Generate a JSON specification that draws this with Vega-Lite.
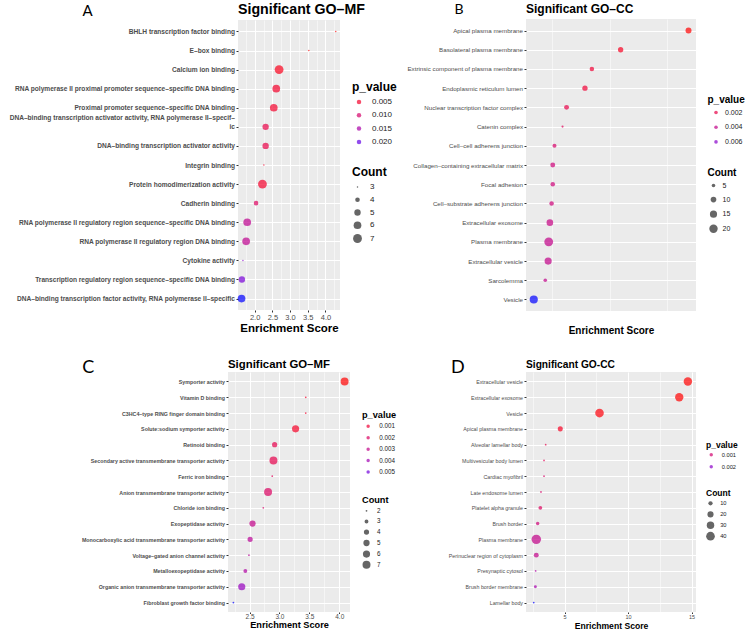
{
  "$schema": "https://vega.github.io/schema/vega-lite/v6.json",
  "background": "white",
  "autosize": {"type": "none"},
  "padding": {"left": 228, "top": 19, "right": 517, "bottom": 611},
  "columns": 2,
  "bounds": "flush",
  "center": true,
  "spacing": {"row": 61, "column": 176},
  "resolve": {
    "scale": {"x": "independent", "y": "independent", "color": "independent", "size": "independent"},
    "legend": {"color": "independent", "size": "independent"}
  },
  "config": {
    "font": "Liberation Sans",
    "view": {"fill": "#EBEBEB", "stroke": null},
    "axis": {"domain": false, "gridColor": "#FFFFFF", "tickColor": "#333333", "labelColor": "#4D4D4D", "titleColor": "#000000", "labelFont": "Liberation Sans", "titleFont": "Liberation Sans"},
    "axisY": {"titleAngle": 0, "titleAlign": "left", "titleBaseline": "alphabetic", "titleFont": "Lato", "titleFontWeight": "normal", "labelLimit": 400, "labelPadding": 1.5, "tickSize": 2, "grid": true, "gridWidth": 1},
    "axisX": {"titleFontWeight": "bold", "labelPadding": 1, "tickSize": 2, "labelFlush": false, "labelOverlap": false, "grid": true, "titlePadding": 2},
    "legend": {"padding": 0, "labelFont": "Liberation Sans", "titleFont": "Liberation Sans", "labelColor": "#1A1A1A", "titleColor": "#000000", "titleFontWeight": "bold", "orient": "none", "direction": "vertical", "symbolType": "circle", "gridAlign": "all"},
    "title": {"color": "#000000", "fontWeight": "bold", "anchor": "start", "frame": "group", "font": "Liberation Sans", "baseline": "alphabetic"}
  },
  "concat": [
    {
      "width": 102,
      "height": 290,
      "title": {"text": "Significant GO–MF", "fontSize": 14.2, "offset": -14},
      "data": {"values": [
        {"term": "BHLH transcription factor binding", "score": 4.29, "p_value": 0.003, "Count": 3},
        {"term": "E–box binding", "score": 3.53, "p_value": 0.003, "Count": 3},
        {"term": "Calcium ion binding", "score": 2.69, "p_value": 0.004, "Count": 7},
        {"term": "RNA polymerase II proximal promoter sequence–specific DNA binding", "score": 2.61, "p_value": 0.005, "Count": 6},
        {"term": "Proximal promoter sequence–specific DNA binding", "score": 2.54, "p_value": 0.005, "Count": 6},
        {"term": "DNA–binding transcription activator activity, RNA polymerase II–specific", "score": 2.31, "p_value": 0.007, "Count": 5},
        {"term": "DNA–binding transcription activator activity", "score": 2.31, "p_value": 0.007, "Count": 5},
        {"term": "Integrin binding", "score": 2.26, "p_value": 0.005, "Count": 3},
        {"term": "Protein homodimerization activity", "score": 2.22, "p_value": 0.005, "Count": 7},
        {"term": "Cadherin binding", "score": 2.04, "p_value": 0.009, "Count": 4},
        {"term": "RNA polymerase II regulatory region sequence–specific DNA binding", "score": 1.79, "p_value": 0.013, "Count": 6},
        {"term": "RNA polymerase II regulatory region DNA binding", "score": 1.76, "p_value": 0.013, "Count": 6},
        {"term": "Cytokine activity", "score": 1.67, "p_value": 0.018, "Count": 3},
        {"term": "Transcription regulatory region sequence–specific DNA binding", "score": 1.64, "p_value": 0.019, "Count": 5},
        {"term": "DNA–binding transcription factor activity, RNA polymerase II–specific", "score": 1.63, "p_value": 0.022, "Count": 6}
      ]},
      "mark": {"type": "circle", "opacity": 0.7},
      "encoding": {
        "y": {"field": "term", "type": "nominal", "sort": null, "scale": {"type": "point", "padding": 0.6},
          "axis": {"title": "A", "titleX": -156, "titleY": -5, "titleFontSize": 15, "labelFontSize": 6.6, "labelFontWeight": "bold", "labelLineHeight": 9.3,
            "labelOffset": {"condition": {"test": "datum.value == 'DNA–binding transcription activator activity, RNA polymerase II–specific'", "value": -9.3}, "value": 0},
            "labelExpr": "datum.value == 'DNA–binding transcription activator activity, RNA polymerase II–specific' ? ['DNA–binding transcription activator activity, RNA polymerase II–specif–', 'ic'] : datum.label"}},
        "x": {"field": "score", "type": "quantitative", "scale": {"domain": [1.53, 4.41], "nice": false, "zero": false},
          "axis": {"title": "Enrichment Score", "titleFontSize": 11.5, "labelFontSize": 7.5, "format": ".1f",
            "values": [1.75, 2, 2.25, 2.5, 2.75, 3, 3.25, 3.5, 3.75, 4, 4.25],
            "labelExpr": "datum.value % 0.5 == 0 ? datum.label : ''",
            "tickOpacity": {"condition": {"test": "datum.value % 0.5 == 0", "value": 1}, "value": 0},
            "gridWidth": {"condition": {"test": "datum.value % 0.5 == 0", "value": 1}, "value": 0.5}}},
        "color": {"field": "p_value", "type": "quantitative", "scale": {"range": ["#FF0000", "#0000FF"], "interpolate": "lab", "zero": false, "nice": false},
          "legend": {"type": "symbol", "values": [0.005, 0.01, 0.015, 0.02], "format": ".3f", "legendX": 114, "legendY": 62, "title": "p_value", "titleFontSize": 12, "labelFontSize": 8, "symbolSize": 20, "symbolOpacity": 0.7, "rowPadding": 5.3, "titlePadding": 4, "symbolOffset": 3, "labelOffset": 9}},
        "size": {"field": "Count", "type": "quantitative", "scale": {"domain": [3, 7], "range": [2.3, 78.5], "zero": false},
          "legend": {"values": [3, 4, 5, 6, 7], "legendX": 114, "legendY": 147, "title": "Count", "titleFontSize": 12, "labelFontSize": 8, "symbolFillColor": "#333333", "symbolOpacity": 0.75, "symbolStrokeWidth": 0, "rowPadding": 3.75, "titlePadding": 4, "symbolOffset": 1, "labelOffset": 8}}
      }
    },
    {
      "width": 170,
      "height": 292,
      "title": {"text": "Significant GO–CC", "fontSize": 12, "offset": -14},
      "data": {"values": [
        {"term": "Apical plasma membrane", "score": 4.87, "p_value": 0.0005, "Count": 11},
        {"term": "Basolateral plasma membrane", "score": 3.69, "p_value": 0.001, "Count": 9},
        {"term": "Extrinsic component of plasma membrane", "score": 3.19, "p_value": 0.0015, "Count": 7},
        {"term": "Endoplasmic reticulum lumen", "score": 3.07, "p_value": 0.0015, "Count": 9},
        {"term": "Nuclear transcription factor complex", "score": 2.75, "p_value": 0.002, "Count": 8},
        {"term": "Catenin complex", "score": 2.68, "p_value": 0.0025, "Count": 3},
        {"term": "Cell–cell adherens junction", "score": 2.54, "p_value": 0.003, "Count": 6},
        {"term": "Collagen–containing extracellular matrix", "score": 2.51, "p_value": 0.0035, "Count": 8},
        {"term": "Focal adhesion", "score": 2.51, "p_value": 0.0035, "Count": 7},
        {"term": "Cell–substrate adherens junction", "score": 2.49, "p_value": 0.0035, "Count": 7},
        {"term": "Extracellular exosome", "score": 2.46, "p_value": 0.0038, "Count": 13},
        {"term": "Plasma membrane", "score": 2.44, "p_value": 0.004, "Count": 22},
        {"term": "Extracellular vesicle", "score": 2.43, "p_value": 0.004, "Count": 15},
        {"term": "Sarcolemma", "score": 2.38, "p_value": 0.004, "Count": 5},
        {"term": "Vesicle", "score": 2.18, "p_value": 0.0075, "Count": 19}
      ]},
      "mark": {"type": "circle", "opacity": 0.7},
      "encoding": {
        "y": {"field": "term", "type": "nominal", "sort": null, "scale": {"type": "point", "padding": 0.6},
          "axis": {"title": "B", "titleX": -72, "titleY": -5.7, "titleFontSize": 14, "labelFontSize": 6.2}},
        "x": {"field": "score", "type": "quantitative", "scale": {"domain": [2.045, 5.0], "nice": false, "zero": false},
          "axis": {"title": "Enrichment Score", "titleFontSize": 10, "labelFontSize": 6, "format": "d", "labelPadding": 2.5, "titlePadding": 4,
            "values": [2.5, 3, 3.5, 4, 4.5],
            "labelExpr": "datum.value % 1 == 0 ? datum.label : ''",
            "tickOpacity": {"condition": {"test": "datum.value % 1 == 0", "value": 1}, "value": 0},
            "gridWidth": {"condition": {"test": "datum.value % 1 == 0", "value": 1}, "value": 0.5}}},
        "color": {"field": "p_value", "type": "quantitative", "scale": {"range": ["#FF0000", "#0000FF"], "interpolate": "lab", "zero": false, "nice": false},
          "legend": {"type": "symbol", "values": [0.002, 0.004, 0.006], "format": ".3f", "legendX": 181.5, "legendY": 76, "title": "p_value", "titleFontSize": 10, "labelFontSize": 7, "symbolSize": 13, "symbolOpacity": 0.7, "rowPadding": 6.7, "titlePadding": 4, "symbolOffset": 5, "labelOffset": 5.5}},
        "size": {"field": "Count", "type": "quantitative", "scale": {"domain": [3, 22], "range": [4.9, 78.5], "zero": false},
          "legend": {"values": [5, 10, 15, 20], "legendX": 181.5, "legendY": 149, "title": "Count", "titleFontSize": 10, "labelFontSize": 7, "symbolFillColor": "#333333", "symbolOpacity": 0.75, "symbolStrokeWidth": 0, "rowPadding": 4.1, "titlePadding": 4, "symbolOffset": 1.5, "labelOffset": 4.5}}
      }
    },
    {
      "width": 122,
      "height": 240,
      "title": {"text": "Significant GO–MF", "fontSize": 11.4, "offset": -12},
      "data": {"values": [
        {"term": "Symporter activity", "score": 4.09, "p_value": 0.0002, "Count": 7},
        {"term": "Vitamin D binding", "score": 3.44, "p_value": 0.0008, "Count": 2},
        {"term": "C3HC4–type RING finger domain binding", "score": 3.44, "p_value": 0.0008, "Count": 2},
        {"term": "Solute:sodium symporter activity", "score": 3.27, "p_value": 0.0007, "Count": 6},
        {"term": "Retinoid binding", "score": 2.92, "p_value": 0.0015, "Count": 4},
        {"term": "Secondary active transmembrane transporter activity", "score": 2.9, "p_value": 0.0015, "Count": 7},
        {"term": "Ferric iron binding", "score": 2.88, "p_value": 0.0018, "Count": 2},
        {"term": "Anion transmembrane transporter activity", "score": 2.81, "p_value": 0.002, "Count": 7},
        {"term": "Chloride ion binding", "score": 2.73, "p_value": 0.0022, "Count": 2},
        {"term": "Exopeptidase activity", "score": 2.55, "p_value": 0.003, "Count": 5},
        {"term": "Monocarboxylic acid transmembrane transporter activity", "score": 2.51, "p_value": 0.0033, "Count": 4},
        {"term": "Voltage–gated anion channel activity", "score": 2.49, "p_value": 0.0033, "Count": 2},
        {"term": "Metalloexopeptidase activity", "score": 2.43, "p_value": 0.0036, "Count": 3},
        {"term": "Organic anion transmembrane transporter activity", "score": 2.37, "p_value": 0.0043, "Count": 6},
        {"term": "Fibroblast growth factor binding", "score": 2.23, "p_value": 0.0058, "Count": 2}
      ]},
      "mark": {"type": "circle", "opacity": 0.7},
      "encoding": {
        "y": {"field": "term", "type": "nominal", "sort": null, "scale": {"type": "point", "padding": 0.6},
          "axis": {"title": "C", "titleX": -146.3, "titleY": 0.5, "titleFontSize": 18, "labelFontSize": 5.3, "labelFontWeight": "bold"}},
        "x": {"field": "score", "type": "quantitative", "scale": {"domain": [2.14, 4.18], "nice": false, "zero": false},
          "axis": {"title": "Enrichment Score", "titleFontSize": 9.2, "labelFontSize": 6.5, "format": ".1f", "labelPadding": 0, "tickSize": 1.5, "titlePadding": 0.5,
            "values": [2.25, 2.5, 2.75, 3, 3.25, 3.5, 3.75, 4],
            "labelExpr": "datum.value % 0.5 == 0 ? datum.label : ''",
            "tickOpacity": {"condition": {"test": "datum.value % 0.5 == 0", "value": 1}, "value": 0},
            "gridWidth": {"condition": {"test": "datum.value % 0.5 == 0", "value": 1}, "value": 0.5}}},
        "color": {"field": "p_value", "type": "quantitative", "scale": {"range": ["#FF0000", "#0000FF"], "interpolate": "lab", "zero": false, "nice": false},
          "legend": {"type": "symbol", "values": [0.001, 0.002, 0.003, 0.004, 0.005], "format": ".3f", "legendX": 134, "legendY": 39, "title": "p_value", "titleFontSize": 9.2, "labelFontSize": 6.3, "symbolSize": 12, "symbolOpacity": 0.7, "rowPadding": 4.4, "titlePadding": 3, "symbolOffset": 3, "labelOffset": 8}},
        "size": {"field": "Count", "type": "quantitative", "scale": {"domain": [2, 7], "range": [3.1, 63.6], "zero": false},
          "legend": {"values": [2, 3, 4, 5, 6, 7], "legendX": 134, "legendY": 123.5, "title": "Count", "titleFontSize": 9.2, "labelFontSize": 6.3, "symbolFillColor": "#333333", "symbolOpacity": 0.75, "symbolStrokeWidth": 0, "rowPadding": 2.6, "titlePadding": 3, "symbolOffset": 0.5, "labelOffset": 6.5}}
      }
    },
    {
      "width": 170,
      "height": 240,
      "title": {"text": "Significant GO-CC", "fontSize": 10.2, "offset": -12},
      "data": {"values": [
        {"term": "Extracellular vesicle", "score": 14.71, "p_value": 0.00001, "Count": 38},
        {"term": "Extracellular exosome", "score": 14.03, "p_value": 0.00001, "Count": 37},
        {"term": "Vesicle", "score": 7.75, "p_value": 0.00005, "Count": 40},
        {"term": "Apical plasma membrane", "score": 4.66, "p_value": 0.0002, "Count": 14},
        {"term": "Alveolar lamellar body", "score": 3.51, "p_value": 0.0006, "Count": 2},
        {"term": "Multivesicular body lumen", "score": 3.38, "p_value": 0.0007, "Count": 2},
        {"term": "Cardiac myofibril", "score": 3.38, "p_value": 0.0009, "Count": 2},
        {"term": "Late endosome lumen", "score": 3.14, "p_value": 0.0009, "Count": 2},
        {"term": "Platelet alpha granule", "score": 3.09, "p_value": 0.0008, "Count": 8},
        {"term": "Brush border", "score": 2.88, "p_value": 0.0011, "Count": 7},
        {"term": "Plasma membrane", "score": 2.77, "p_value": 0.0013, "Count": 48},
        {"term": "Perinuclear region of cytoplasm", "score": 2.77, "p_value": 0.0013, "Count": 13},
        {"term": "Presynaptic cytosol", "score": 2.72, "p_value": 0.0016, "Count": 2},
        {"term": "Brush border membrane", "score": 2.7, "p_value": 0.0017, "Count": 5},
        {"term": "Lamellar body", "score": 2.57, "p_value": 0.0026, "Count": 2}
      ]},
      "mark": {"type": "circle", "opacity": 0.7},
      "encoding": {
        "y": {"field": "term", "type": "nominal", "sort": null, "scale": {"type": "point", "padding": 0.6},
          "axis": {"title": "D", "titleX": -75.5, "titleY": 0, "titleFontSize": 18, "labelFontSize": 5.3}},
        "x": {"field": "score", "type": "quantitative", "scale": {"domain": [1.96, 15.35], "nice": false, "zero": false},
          "axis": {"title": "Enrichment Score", "titleFontSize": 8.6, "labelFontSize": 5.5, "format": "d", "labelPadding": 1, "tickSize": 1.5, "titlePadding": 1,
            "values": [2.5, 5, 7.5, 10, 12.5, 15],
            "labelExpr": "datum.value % 5 == 0 ? datum.label : ''",
            "tickOpacity": {"condition": {"test": "datum.value % 5 == 0", "value": 1}, "value": 0},
            "gridWidth": {"condition": {"test": "datum.value % 5 == 0", "value": 1}, "value": 0.5}}},
        "color": {"field": "p_value", "type": "quantitative", "scale": {"range": ["#FF0000", "#0000FF"], "interpolate": "lab", "zero": false, "nice": false},
          "legend": {"type": "symbol", "values": [0.001, 0.002], "format": ".3f", "legendX": 180, "legendY": 68.5, "title": "p_value", "titleFontSize": 8.5, "labelFontSize": 5.7, "symbolSize": 12, "symbolOpacity": 0.7, "rowPadding": 5, "titlePadding": 3, "symbolOffset": 2.4, "labelOffset": 7.7}},
        "size": {"field": "Count", "type": "quantitative", "scale": {"domain": [2, 48], "range": [3.1, 90], "zero": false},
          "legend": {"values": [10, 20, 30, 40], "legendX": 180, "legendY": 117, "title": "Count", "titleFontSize": 8.5, "labelFontSize": 5.7, "symbolFillColor": "#333333", "symbolOpacity": 0.75, "symbolStrokeWidth": 0, "rowPadding": 1.4, "titlePadding": 3, "symbolOffset": 0, "labelOffset": 5.2}}
      }
    }
  ]
}
